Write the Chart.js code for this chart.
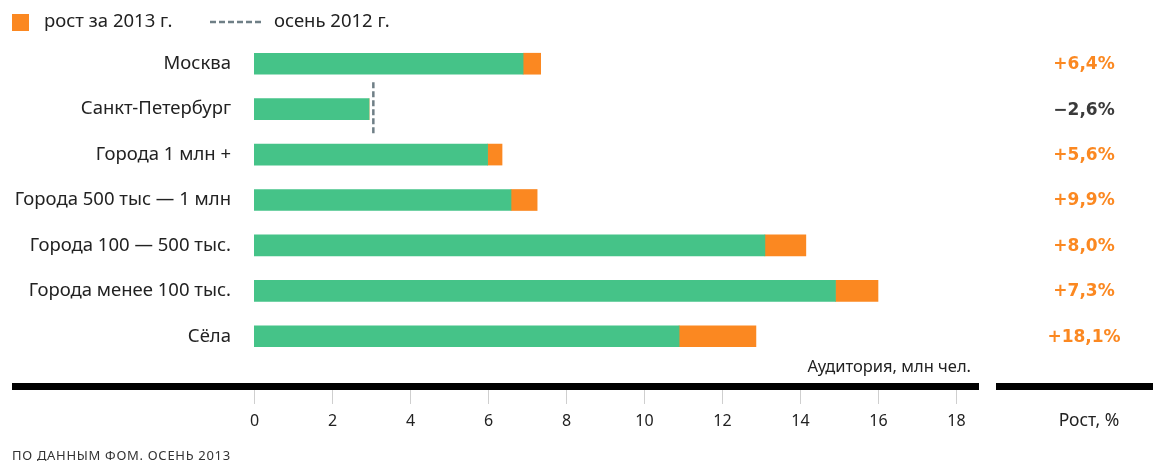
<!DOCTYPE html>
<html lang="ru">
<head>
<meta charset="utf-8">
<script src="https://cdn.jsdelivr.net/npm/chart.js@4"></script>
<style>
  html, body { margin: 0; padding: 0; background: #fff; }
  #wrap { width: 1153px; height: 461px; }
</style>
</head>
<body>
<div id="wrap"><canvas id="chart" width="1153" height="461"></canvas></div>
<script>
// категории
const categories = [
    'Москва',
    'Санкт-Петербург',
    'Города 1 млн +',
    'Города 500 тыс — 1 млн',
    'Города 100 — 500 тыс.',
    'Города менее 100 тыс.',
    'Сёла'
];
// аудитория, млн чел. (зелёная часть)
const baseAudience = [6.9, 2.95, 5.99, 6.59, 13.1, 14.91, 10.9];
// рост за 2013 г. (оранжевая часть)
const growth2013 = [0.45, 0, 0.37, 0.67, 1.05, 1.09, 1.97];
// осень 2012 г. (пунктир) — только там, где было падение
const autumn2012 = [null, 3.06, null, null, null, null, null];
// рост, %
const growthPct = ['+6,4%', '−2,6%', '+5,6%', '+9,9%', '+8,0%', '+7,3%', '+18,1%'];
// деления оси
const xTicks = [0, 2, 4, 6, 8, 10, 12, 14, 16, 18];

const GREEN = '#45c388';
const ORANGE = '#fb8821';
const DASH = '#6f7f86';
const TEXT = '#222';
const FONT = '"Noto Sans", "Open Sans", sans-serif';
const BOLD_FONT = '"DejaVu Sans", sans-serif';

// рисуем всё, что не является столбцами
const decorPlugin = {
    id: 'decor',
    afterDatasetsDraw(chart) {
        const { ctx } = chart;
        const x = chart.scales.x;
        const y = chart.scales.y;
        ctx.save();

        // пунктир осени 2012
        ctx.strokeStyle = DASH;
        ctx.lineWidth = 2.5;
        ctx.setLineDash([6, 3]);
        autumn2012.forEach((v, i) => {
            if (v === null) return;
            const px = x.getPixelForValue(v);
            const py = y.getPixelForValue(i);
            ctx.beginPath();
            ctx.moveTo(px, py - 27);
            ctx.lineTo(px, py + 26);
            ctx.stroke();
        });
        ctx.setLineDash([]);

        // проценты роста справа
        ctx.font = `bold 17px ${BOLD_FONT}`;
        ctx.textAlign = 'center';
        ctx.textBaseline = 'middle';
        growthPct.forEach((t, i) => {
            ctx.fillStyle = t.startsWith('+') ? ORANGE : '#3a3a3a';
            ctx.fillText(t, 1084, y.getPixelForValue(i) + 1);
        });

        // толстая линия оси
        const axisEnd = x.getPixelForValue(x.max);
        ctx.fillStyle = '#000';
        ctx.fillRect(12, 383, axisEnd - 12, 7);
        ctx.fillRect(996, 383, 1153 - 996, 7);

        // деления и подписи
        ctx.strokeStyle = '#cfcfcf';
        ctx.lineWidth = 1;
        ctx.font = `16px ${FONT}`;
        ctx.fillStyle = TEXT;
        xTicks.forEach(v => {
            const px = Math.round(x.getPixelForValue(v)) + 0.5;
            ctx.beginPath();
            ctx.moveTo(px, 390);
            ctx.lineTo(px, 404);
            ctx.stroke();
            ctx.fillText(String(v), px, 421);
        });
        ctx.font = `17.5px ${FONT}`;
        ctx.fillText('Рост, %', 1089, 421);

        ctx.textAlign = 'right';
        ctx.font = `16.5px ${FONT}`;
        ctx.fillText('Аудитория, млн чел.', 971, 367);

        // источник
        ctx.textAlign = 'left';
        ctx.font = `13px ${FONT}`;
        ctx.letterSpacing = '0.7px';
        ctx.fillStyle = '#333';
        ctx.fillText('ПО ДАННЫМ ФОМ. ОСЕНЬ 2013', 12, 456);
        ctx.letterSpacing = '0px';

        // легенда
        ctx.fillStyle = ORANGE;
        ctx.fillRect(12, 14, 17, 17);
        ctx.font = `18.5px ${FONT}`;
        ctx.fillStyle = TEXT;
        ctx.fillText('рост за 2013 г.', 44, 22);
        ctx.strokeStyle = DASH;
        ctx.lineWidth = 2.5;
        ctx.setLineDash([6, 3]);
        ctx.beginPath();
        ctx.moveTo(210, 22);
        ctx.lineTo(262, 22);
        ctx.stroke();
        ctx.setLineDash([]);
        ctx.fillText('осень 2012 г.', 274, 22);

        ctx.restore();
    }
};

new Chart(document.getElementById('chart'), {
    type: 'bar',
    data: {
        labels: categories,
        datasets: [
            { label: 'аудитория', data: baseAudience, backgroundColor: GREEN },
            { label: 'рост за 2013 г.', data: growth2013, backgroundColor: ORANGE }
        ]
    },
    options: {
        indexAxis: 'y',
        responsive: false,
        animation: false,
        layout: { padding: { left: 0, right: 1153 - 979, top: 41, bottom: 461 - 359 } },
        plugins: { legend: { display: false }, tooltip: { enabled: false } },
        datasets: { bar: { barThickness: 21, borderWidth: 0 } },
        scales: {
            x: {
                stacked: true,
                min: 0,
                max: 18.59,
                display: false
            },
            y: {
                stacked: true,
                grid: { display: false },
                border: { display: false },
                ticks: {
                    color: TEXT,
                    padding: 15,
                    font: { family: FONT, size: 18.5 }
                },
                afterFit(scale) { scale.width = 254; }
            }
        }
    },
    plugins: [decorPlugin]
});
</script>
</body>
</html>
